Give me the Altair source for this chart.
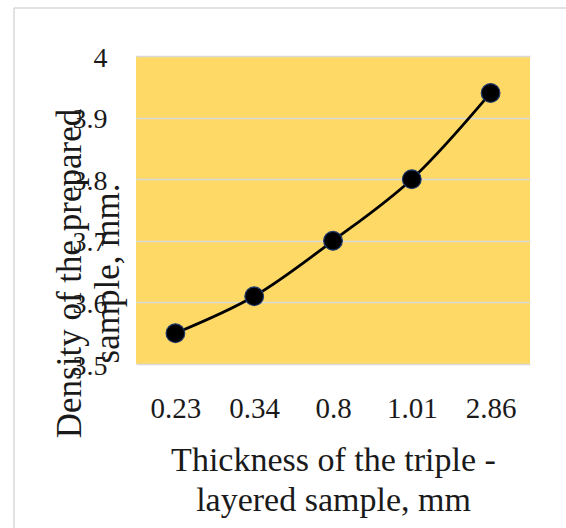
import altair as alt
import pandas as pd

thickness = ["0.23", "0.34", "0.8", "1.01", "2.86"]
density = [3.55, 3.61, 3.70, 3.80, 3.94]
y_ticks = [3.5, 3.6, 3.7, 3.8, 3.9, 4.0]

df = pd.DataFrame({"thickness": thickness, "density": density})

FONT = "Liberation Serif"
TEXT = "#1a1a1a"
GRID = "#d9d9d9"
FILL = "#FFD966"

x_enc = alt.X(
    "thickness:N",
    sort=thickness,
    scale=alt.Scale(type="point", padding=0.5),
    axis=alt.Axis(
        title=["Thickness of the triple -", "layered sample, mm"],
        titleFont=FONT, titleFontSize=34, titleFontWeight="normal", titleColor=TEXT,
        titleLineHeight=40, titleBaseline="alphabetic", titleAlign="center",
        titleX=197, titleY=106, titleAngle=0,
        labelFont=FONT, labelFontSize=29, labelColor=TEXT, labelAngle=0,
        labelBaseline="alphabetic", labelPadding=53,
        ticks=False, tickSize=0, domain=False, grid=False,
    ),
)

y_enc = alt.Y(
    "density:Q",
    scale=alt.Scale(domain=[3.5, 4.0], nice=False, zero=False),
    axis=alt.Axis(
        values=y_ticks, format=".1~f",
        title=["Density of the prepared", "sample, mm."],
        titleFont=FONT, titleFontSize=35, titleFontWeight="normal", titleColor=TEXT,
        titleLineHeight=38, titleBaseline="alphabetic", titleAlign="center",
        titleAngle=270, titleX=-56, titleY=217,
        labelFont=FONT, labelFontSize=28, labelColor=TEXT,
        labelPadding=29, labelOffset=2,
        ticks=False, tickSize=0, domain=False,
        grid=True, gridColor=GRID, gridWidth=1.5,
    ),
)

base = alt.Chart(df)

line = base.mark_line(color="black", strokeWidth=2.8, interpolate="catmull-rom").encode(
    x=x_enc, y=y_enc
)
points = base.mark_point(
    filled=True, fill="black", stroke="#1f3b70", strokeWidth=1.2, opacity=1, size=350, shape="circle"
).encode(x=alt.X("thickness:N", sort=thickness), y="density:Q")

frame_data = alt.Data(values=[{}])
frame_left = alt.Chart(frame_data).mark_rule(color=GRID, strokeWidth=1.5).encode(
    x=alt.value(-122), y=alt.value(-48), y2=alt.value(472)
)
frame_top = alt.Chart(frame_data).mark_rule(color=GRID, strokeWidth=1.5).encode(
    x=alt.value(-122), x2=alt.value(430), y=alt.value(-48)
)

chart = (
    alt.layer(line, points, frame_left, frame_top)
    .properties(
        width=394,
        height=308,
        autosize=alt.AutoSizeParams(type="none"),
        padding={"left": 136, "top": 56, "right": 36, "bottom": 164},
        background="white",
    )
    .configure_view(fill=FILL, stroke=None)
)

chart.save("out.html", embed_options={"renderer": "svg", "actions": False})
